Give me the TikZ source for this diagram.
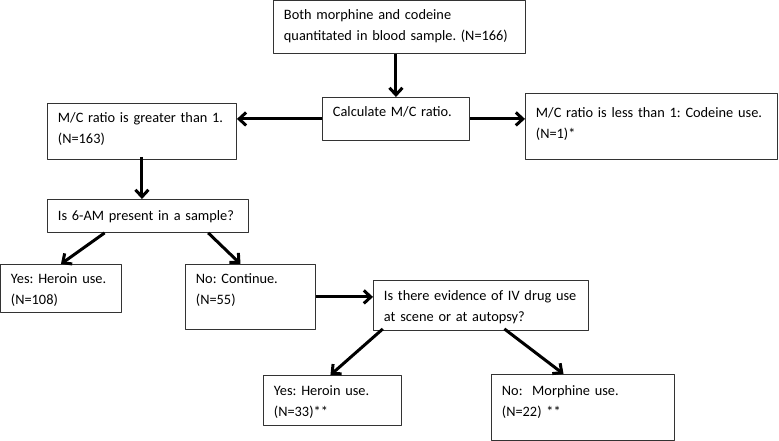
\documentclass[tikz,border=0pt]{standalone}
\usepackage{fontspec}
\setmainfont{Carlito}
\usetikzlibrary{arrows.meta}
\frenchspacing

\begin{document}
\begin{tikzpicture}[x=1bp, y=-1bp, font=\fontsize{14.4}{21.5}\selectfont, line join=round,
	box/.style={draw=black!80, line width=0.9bp, anchor=north west, align=left,
		inner xsep=10.5bp, inner ysep=8bp, text height=11bp},
	flow/.style={line width=3bp, -{Straight Barb[length=7bp, width=13bp, line width=3bp]}}]
	\useasboundingbox (0,0) rectangle (779,441);
	
	% Start and first split
	\node[box, text width=231bp, text depth=26bp] (blood) at (273,0)
		{Both morphine and codeine\\quantitated in blood sample. (N=166)};
	\node[box, text width=126bp, text depth=16bp] (ratio) at (322,97)
		{Calculate M/C ratio.};
	\node[box, text width=168bp, text depth=29bp] (greater) at (47,103)
		{M/C ratio is greater than 1.\\(N=163)};
	\node[box, text width=231bp, text height=16bp, text depth=34bp] (less) at (525,93)
		{M/C ratio is less than 1: Codeine use.\\(N=1)*};
	
	% 6-AM question
	\node[box, text width=180bp, text height=13bp, text depth=4bp] (sixam) at (47,199)
		{Is 6-AM present in a sample?};
	\node[box, text width=100bp, text depth=21bp] (heroinA) at (0,264)
		{Yes: Heroin use.\\(N=108)};
	\node[box, text width=109bp, text depth=38bp] (cont) at (185,264)
		{No: Continue.\\(N=55)};
	
	% IV drug use question
	\node[box, text width=194bp, text height=12bp, text depth=22bp] (ivuse) at (373,280)
		{Is there evidence of IV drug use\\at scene or at autopsy?};
	\node[box, text width=117bp, text height=12bp, text depth=22bp] (heroinB) at (263,375)
		{Yes: Heroin use.\\(N=33)**};
	\node[box, text width=162bp, text height=13bp, text depth=37bp] (morph) at (491,374)
		{No:\ \ Morphine use.\\(N=22) **};
	
	% Arrows
	\draw[flow] (ratio.north |- blood.south) -- (ratio.north);
	\draw[flow] (ratio.west) -- (ratio.west -| greater.east);
	\draw[flow] (ratio.east) -- (ratio.east -| less.west);
	\draw[flow] ([yshift=3]greater.south) -- (greater.south |- sixam.north);
	\draw[flow] ([xshift=-43.5]sixam.south) -- (heroinA.north);
	\draw[flow] ([xshift=60.5]sixam.south) -- ([xshift=-10]cont.north);
	\draw[flow] (cont.east) -- (cont.east -| ivuse.west);
	\draw[flow] ([xshift=-98.5,yshift=2]ivuse.south) -- ([xshift=-2]heroinB.north);
	\draw[flow] ([xshift=23.5,yshift=2]ivuse.south) -- ([xshift=-19.5]morph.north);
\end{tikzpicture}
\end{document}
